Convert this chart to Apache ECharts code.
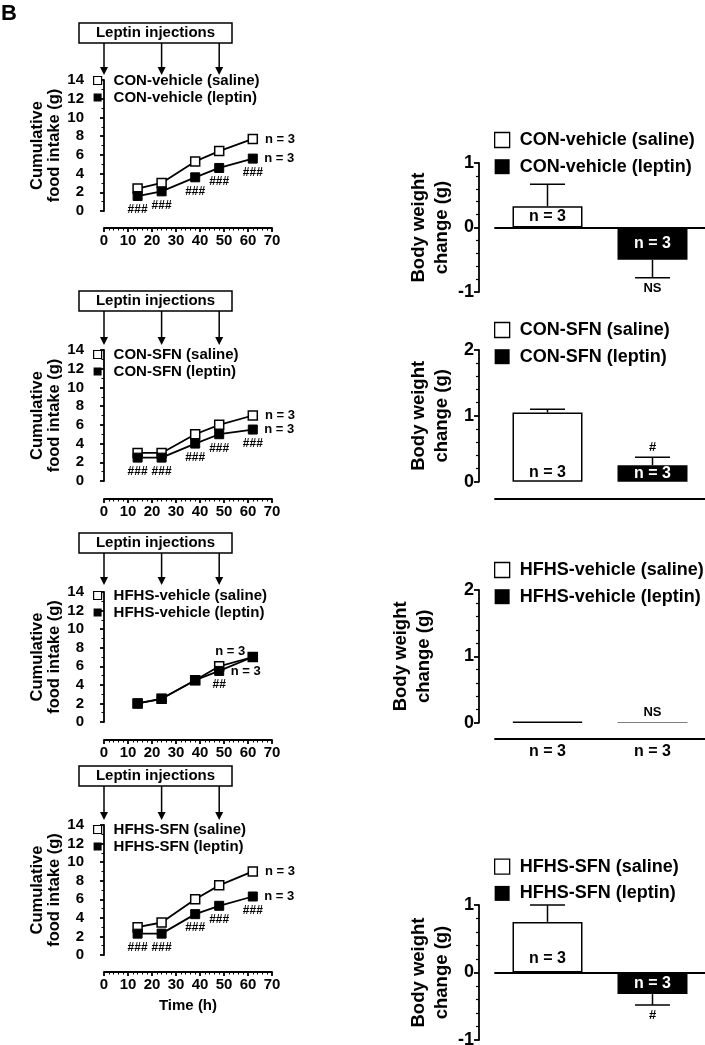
<!DOCTYPE html>
<html>
<head>
<meta charset="utf-8">
<script src="https://cdn.jsdelivr.net/npm/echarts@6/dist/echarts.min.js"></script>
<style>
html, body { margin: 0; padding: 0; background: #fff; }
#chart { width: 705px; height: 1045px; }
</style>
</head>
<body>
<div id="chart"></div>
<script>
// time course data (left panels)
const groups = ['CON-vehicle', 'CON-SFN', 'HFHS-vehicle', 'HFHS-SFN']
const times = [14, 24, 38, 48, 62]
const injectionTimes = [0, 24, 48]
const salineIntake = [
  [2.4, 3.0, 5.3, 6.4, 7.7],
  [3.0, 3.0, 5.0, 6.0, 7.0],
  [2.0, 2.5, 4.5, 6.0, 7.0],
  [3.0, 3.5, 6.0, 7.5, 9.0]
]
const leptinIntake = [
  [1.6, 2.1, 3.6, 4.6, 5.6],
  [2.5, 2.5, 4.0, 5.0, 5.5],
  [2.0, 2.5, 4.5, 5.5, 7.0],
  [2.3, 2.3, 4.4, 5.3, 6.3]
]
const leptinSig = [
  ['###', '###', '###', '###', '###'],
  ['###', '###', '###', '###', '###'],
  ['', '', '', '##', ''],
  ['###', '###', '###', '###', '###']
]
const nIndex = [4, 4, 3, 4]
const nPerGroup = [3, 3, 3, 3]

// body weight change (right panels)
const barCats = ['saline', 'leptin']
const salineChange = [0.33, 1.05, 0.01, 0.75]
const salineSem = [0.34, 0.05, 0, 0.25]
const leptinChange = [-0.5, 0.25, 0.008, -0.32]
const leptinSem = [0.28, 0.12, 0, 0.16]
const leptinMark = ['NS', '#', 'NS', '#']
const weightMin = [-1, 0, 0, -1]
const weightMax = [1, 2, 2, 1]

// layout
const FONT = '"Liberation Sans", Arial, sans-serif'
const black = { color: '#000', width: 1.8 }
const leftLayout = [
  { top: 80, h: 131, xOff: 17, legendTop: 73, boxTop: 23, tip: 75 },
  { top: 350, h: 131, xOff: 18, legendTop: 347, boxTop: 291, tip: 345 },
  { top: 592, h: 130, xOff: 18, legendTop: 588, boxTop: 533, tip: 585 },
  { top: 825, h: 130, xOff: 17, legendTop: 822, boxTop: 766, tip: 820 }
]
const rightLayout = [
  { top: 163, h: 129, xOff: 0, legendTop: 131, nameGap: 26, sPos: 'inside', sDist: 5 },
  { top: 350, h: 131.7, xOff: 17, legendTop: 321, nameGap: 26, sPos: 'insideBottom', sDist: 1 },
  { top: 590, h: 132.7, xOff: 16, legendTop: 561, nameGap: 44, sPos: 'inside', sDist: 5 },
  { top: 905, h: 135, xOff: 0, legendTop: 857.7, nameGap: 26, sPos: 'insideBottom', sDist: 6 }
]

const txt = (size, extra) => Object.assign({ color: '#000', fontFamily: FONT, fontWeight: 'bold', fontSize: size }, extra || {})

const grid = [], xAxis = [], yAxis = [], series = [], legend = []

groups.forEach((g, i) => {
  const L = leftLayout[i]
  grid.push({ left: 104, top: L.top, width: 168, height: L.h, outerBoundsMode: 'none' })
  xAxis.push({
    gridIndex: i, type: 'value', min: 0, max: 70, interval: 10, offset: L.xOff,
    axisLine: { show: true, onZero: false, lineStyle: black },
    axisTick: { show: true, length: 4, lineStyle: black },
    minorTick: { show: true, splitNumber: 5, length: 2.5, lineStyle: { color: '#000', width: 1 } },
    axisLabel: txt(15, { margin: 5 }),
    splitLine: { show: false },
    name: i === 3 ? 'Time (h)' : '', nameLocation: 'middle', nameGap: 26,
    nameTextStyle: txt(15)
  })
  yAxis.push({
    gridIndex: i, type: 'value', min: 0, max: 14, interval: 2, offset: 15,
    axisLine: { show: true, lineStyle: black },
    axisTick: { show: true, length: 4, lineStyle: black },
    minorTick: { show: true, splitNumber: 2, length: 2.5, lineStyle: { color: '#000', width: 1 } },
    axisLabel: txt(15, { margin: 5 }),
    splitLine: { show: false },
    name: 'Cumulative\nfood intake (g)', nameLocation: 'middle', nameGap: 25,
    nameTextStyle: txt(16.5, { lineHeight: 17 })
  })

  const nLabel = 'n = ' + nPerGroup[i]
  series.push({
    type: 'line', name: g + ' (saline)', xAxisIndex: i, yAxisIndex: i,
    symbol: 'rect', symbolSize: 9,
    itemStyle: { color: '#fff', borderColor: '#000', borderWidth: 1.5 },
    lineStyle: { color: '#000', width: 1.8 },
    data: times.map((t, k) => {
      const d = { value: [t, salineIntake[i][k]] }
      if (k === nIndex[i]) {
        d.label = i === 2
          ? { show: true, formatter: nLabel, position: 'top', distance: 3, offset: [11, 0], ...txt(13) }
          : { show: true, formatter: nLabel, position: 'right', distance: 7, ...txt(13) }
      }
      return d
    })
  })
  series.push({
    type: 'line', name: g + ' (leptin)', xAxisIndex: i, yAxisIndex: i,
    symbol: 'rect', symbolSize: 9,
    itemStyle: { color: '#000', borderColor: '#000', borderWidth: 1 },
    lineStyle: { color: '#000', width: 1.8 },
    data: times.map((t, k) => {
      const d = { value: [t, leptinIntake[i][k]] }
      if (leptinSig[i][k]) {
        d.label = { show: true, formatter: leptinSig[i][k], position: 'bottom', distance: 3, ...txt(12) }
      }
      return d
    }),
    markPoint: {
      silent: true, symbol: 'rect', symbolSize: 9,
      itemStyle: { color: 'rgba(0,0,0,0)' },
      label: { show: true, formatter: nLabel, position: 'right', distance: 7, ...txt(13) },
      data: [{ coord: [times[nIndex[i]], leptinIntake[i][nIndex[i]]] }]
    }
  })
  legend.push({
    left: 93, top: L.legendTop, orient: 'vertical', selectedMode: false, padding: 0,
    itemWidth: 8, itemHeight: 8, itemGap: 2, icon: 'rect',
    textStyle: txt(15, { lineHeight: 15, padding: [0, 0, 0, 7] }),
    data: [
      { name: g + ' (saline)', icon: 'rect', itemStyle: { color: '#fff', borderColor: '#000', borderWidth: 1.2 } },
      { name: g + ' (leptin)', icon: 'rect', itemStyle: { color: '#000', borderWidth: 0 } }
    ]
  })
})

groups.forEach((g, i) => {
  const R = rightLayout[i]
  const gi = 4 + i
  grid.push({ left: 495, top: R.top, width: 210, height: R.h, outerBoundsMode: 'none' })
  xAxis.push({
    gridIndex: gi, type: 'category', data: barCats, offset: R.xOff,
    axisLine: { show: true, onZero: weightMin[i] < 0, lineStyle: black },
    axisTick: { show: false },
    axisLabel: i === 2
      ? txt(16, { margin: 5, formatter: () => 'n = ' + nPerGroup[i] })
      : { show: false },
    splitLine: { show: false }
  })
  yAxis.push({
    gridIndex: gi, type: 'value', min: weightMin[i], max: weightMax[i], interval: 1, offset: 16,
    axisLine: { show: true, onZero: false, lineStyle: black },
    axisTick: { show: true, length: 5, lineStyle: black },
    minorTick: { show: true, splitNumber: 5, length: 3, lineStyle: { color: '#000', width: 1.2 } },
    axisLabel: txt(18, { margin: 5 }),
    splitLine: { show: false },
    name: 'Body weight\nchange (g)', nameLocation: 'middle', nameGap: R.nameGap,
    nameTextStyle: txt(18.5, { lineHeight: 22.5 })
  })
  const showN = i !== 2
  series.push({
    type: 'bar', name: g + ' (saline)', xAxisIndex: gi, yAxisIndex: gi,
    barWidth: 70, barGap: '-100%',
    itemStyle: { color: '#fff', borderColor: '#000', borderWidth: 1.5 },
    label: { show: showN, formatter: 'n = ' + nPerGroup[i], position: R.sPos, distance: R.sDist, ...txt(16) },
    data: [salineChange[i], '-']
  })
  series.push({
    type: 'bar', name: g + ' (leptin)', xAxisIndex: gi, yAxisIndex: gi,
    barWidth: 70, barGap: '-100%',
    itemStyle: { color: '#000', borderColor: '#000', borderWidth: 0 },
    label: { show: showN, formatter: 'n = ' + nPerGroup[i], position: 'inside', ...txt(16, { color: '#fff' }) },
    data: ['-', leptinChange[i]]
  })
  const marks = ['', leptinMark[i]]
  series.push({
    type: 'custom', xAxisIndex: gi, yAxisIndex: gi, silent: true, z: 3,
    data: [[0, salineChange[i], salineSem[i]], [1, leptinChange[i], leptinSem[i]]],
    renderItem: (params, api) => {
      const m = api.value(1), s = api.value(2)
      const dir = m < 0 ? -1 : 1
      const p0 = api.coord([api.value(0), m])
      const p1 = api.coord([api.value(0), m + dir * s])
      const children = []
      if (s > 0) {
        children.push({ type: 'line', shape: { x1: p0[0], y1: p0[1], x2: p1[0], y2: p1[1] }, style: { stroke: '#000', lineWidth: 1.5 } })
        children.push({ type: 'line', shape: { x1: p1[0] - 17.5, y1: p1[1], x2: p1[0] + 17.5, y2: p1[1] }, style: { stroke: '#000', lineWidth: 1.5 } })
      }
      const mk = marks[params.dataIndex]
      if (mk) {
        children.push({
          type: 'text',
          style: {
            text: mk, x: p1[0], y: dir < 0 ? p1[1] + 4 : p1[1] - 3,
            align: 'center', verticalAlign: dir < 0 ? 'top' : 'bottom',
            fill: '#000', font: 'bold 13px ' + FONT
          }
        })
      }
      return { type: 'group', children }
    }
  })
  legend.push({
    left: 494, top: R.legendTop, orient: 'vertical', selectedMode: false, padding: 0,
    itemWidth: 15, itemHeight: 15, itemGap: 8.7, icon: 'rect',
    textStyle: txt(18, { lineHeight: 18, padding: [0, 0, 0, 5] }),
    data: [
      { name: g + ' (saline)', icon: 'rect', itemStyle: { color: '#fff', borderColor: '#000', borderWidth: 1.3 } },
      { name: g + ' (leptin)', icon: 'rect', itemStyle: { color: '#000', borderWidth: 0 } }
    ]
  })
})

const chart = echarts.init(document.getElementById('chart'))
chart.setOption({
  animation: false,
  backgroundColor: '#fff',
  grid, xAxis, yAxis, series, legend
})

// "Leptin injections" boxes with arrows at injection times
const graphic = [{
  type: 'text', left: 1, top: 3,
  style: { text: 'B', fill: '#000', font: 'bold 22px ' + FONT }
}]
leftLayout.forEach((L, i) => {
  graphic.push({
    type: 'rect', shape: { x: 79, y: L.boxTop, width: 153, height: 20 },
    style: { fill: '#fff', stroke: '#000', lineWidth: 1.5 }
  })
  graphic.push({
    type: 'text',
    style: { text: 'Leptin injections', x: 155.5, y: L.boxTop + 10, align: 'center', verticalAlign: 'middle', fill: '#000', font: 'bold 15px ' + FONT }
  })
  injectionTimes.forEach(t => {
    const x = chart.convertToPixel({ gridIndex: i }, [t, 0])[0]
    graphic.push({
      type: 'line', shape: { x1: x, y1: L.boxTop + 20, x2: x, y2: L.tip - 7 },
      style: { stroke: '#000', lineWidth: 1.5 }
    })
    graphic.push({
      type: 'polygon', shape: { points: [[x - 4, L.tip - 8], [x + 4, L.tip - 8], [x, L.tip]] },
      style: { fill: '#000' }
    })
  })
})
chart.setOption({ graphic })
</script>
</body>
</html>
